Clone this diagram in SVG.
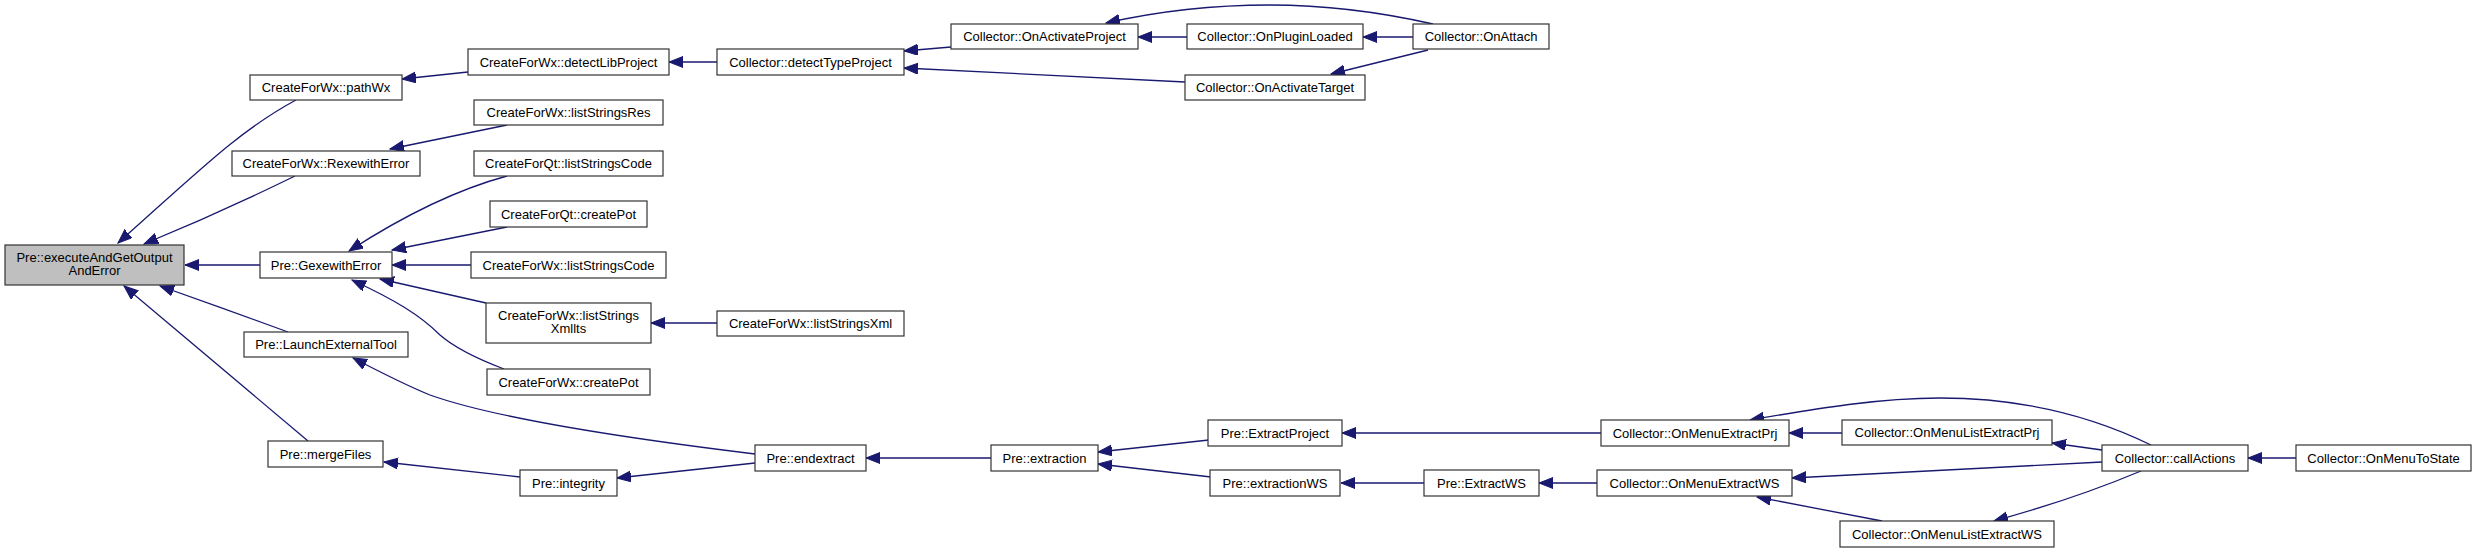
<svg xmlns="http://www.w3.org/2000/svg" width="2476" height="553" viewBox="0 0 2476 553">
<style>
.n rect{fill:#fff;stroke:#333;stroke-width:1.2}
.n.m rect{fill:#bfbfbf}
.n text{font-family:"Liberation Sans",Arial,sans-serif;font-size:13px;fill:#000;text-anchor:middle}
.e path{fill:none;stroke:#191970;stroke-width:1.3;marker-end:url(#ah)}
</style>
<defs>
<marker id="ah" markerUnits="userSpaceOnUse" markerWidth="16" markerHeight="12" refX="14" refY="5.5" orient="auto">
<path d="M0,0 L14,5.5 L0,11 z" fill="#191970" stroke="#191970" stroke-width="1"/>
</marker>
</defs>
<rect width="2476" height="553" fill="#fff"/>
<g id="edges" class="e">
<path d="M296,100 C240,130 200,170 118,243"/>
<path d="M295,176 C250,198 190,225 144,244"/>
<path d="M260,265 L185,265"/>
<path d="M288,332 C250,318 200,300 160,286"/>
<path d="M308,441 L124,286"/>
<path d="M468,72 L402,79"/>
<path d="M507,125 L390,149"/>
<path d="M507,176 C470,186 420,205 349,251"/>
<path d="M507,227 L392,250"/>
<path d="M471,265 L392,265"/>
<path d="M486,303 L380,279"/>
<path d="M504,369 C475,358 455,348 440,335 C420,315 395,300 352,280"/>
<path d="M755,454 C640,440 500,420 430,395 C405,385 380,372 353,358"/>
<path d="M520,477 L384,462"/>
<path d="M755,463 L617,478"/>
<path d="M991,458 L866,458"/>
<path d="M1209,440 L1098,452"/>
<path d="M1211,477 L1098,464"/>
<path d="M1601,433 L1342,433"/>
<path d="M1424,483 L1341,483"/>
<path d="M1597,483 L1539,483"/>
<path d="M1842,433 L1789,433"/>
<path d="M2151,445 C2100,420 2030,398 1940,398 C1880,398 1820,408 1750,420"/>
<path d="M2102,450 L2052,443"/>
<path d="M2102,462 L1792,478"/>
<path d="M2141,471 C2110,484 2060,503 1994,521"/>
<path d="M1882,521 L1757,497"/>
<path d="M2296,458 L2248,458"/>
<path d="M951,47 L904,51"/>
<path d="M1185,82 L904,68"/>
<path d="M717,62 L669,62"/>
<path d="M1187,37 L1138,37"/>
<path d="M1433,24 C1380,12 1320,5 1270,5 C1200,5 1150,13 1106,23"/>
<path d="M1413,37 L1363,37"/>
<path d="M1428,50 L1331,74"/>
<path d="M717,323 L651,323"/>
</g>
<g id="n_main" class="n m"><rect x="5" y="245" width="179" height="40"/><text x="94.5" y="262">Pre::executeAndGetOutput</text><text x="94.5" y="275">AndError</text></g>
<g id="n_pathWx" class="n"><rect x="250" y="75" width="152" height="25"/><text x="326" y="92">CreateForWx::pathWx</text></g>
<g id="n_RexewithError" class="n"><rect x="232" y="151" width="188" height="25"/><text x="326" y="168">CreateForWx::RexewithError</text></g>
<g id="n_GexewithError" class="n"><rect x="260" y="252" width="132" height="26"/><text x="326" y="269.5">Pre::GexewithError</text></g>
<g id="n_LaunchExternalTool" class="n"><rect x="244" y="332" width="164" height="25"/><text x="326" y="349">Pre::LaunchExternalTool</text></g>
<g id="n_mergeFiles" class="n"><rect x="268" y="441" width="115" height="26"/><text x="325.5" y="458.5">Pre::mergeFiles</text></g>
<g id="n_detectLibProject" class="n"><rect x="468" y="49" width="201" height="26"/><text x="568.5" y="66.5">CreateForWx::detectLibProject</text></g>
<g id="n_listStringsRes" class="n"><rect x="474" y="100" width="189" height="25"/><text x="568.5" y="117">CreateForWx::listStringsRes</text></g>
<g id="n_QtlistStringsCode" class="n"><rect x="474" y="151" width="189" height="25"/><text x="568.5" y="168">CreateForQt::listStringsCode</text></g>
<g id="n_QtcreatePot" class="n"><rect x="490" y="201" width="157" height="26"/><text x="568.5" y="218.5">CreateForQt::createPot</text></g>
<g id="n_WxlistStringsCode" class="n"><rect x="471" y="252" width="195" height="26"/><text x="568.5" y="269.5">CreateForWx::listStringsCode</text></g>
<g id="n_listStringsXmllts" class="n"><rect x="486" y="303" width="165" height="40"/><text x="568.5" y="320">CreateForWx::listStrings</text><text x="568.5" y="333">Xmllts</text></g>
<g id="n_WxcreatePot" class="n"><rect x="487" y="369" width="163" height="26"/><text x="568.5" y="386.5">CreateForWx::createPot</text></g>
<g id="n_integrity" class="n"><rect x="520" y="470" width="97" height="26"/><text x="568.5" y="487.5">Pre::integrity</text></g>
<g id="n_detectTypeProject" class="n"><rect x="717" y="49" width="187" height="26"/><text x="810.5" y="66.5">Collector::detectTypeProject</text></g>
<g id="n_listStringsXml" class="n"><rect x="717" y="311" width="187" height="25"/><text x="810.5" y="328">CreateForWx::listStringsXml</text></g>
<g id="n_endextract" class="n"><rect x="755" y="445" width="111" height="26"/><text x="810.5" y="462.5">Pre::endextract</text></g>
<g id="n_OnActivateProject" class="n"><rect x="951" y="24" width="187" height="25"/><text x="1044.5" y="41">Collector::OnActivateProject</text></g>
<g id="n_extraction" class="n"><rect x="991" y="445" width="107" height="26"/><text x="1044.5" y="462.5">Pre::extraction</text></g>
<g id="n_OnPluginLoaded" class="n"><rect x="1187" y="24" width="176" height="25"/><text x="1275" y="41">Collector::OnPluginLoaded</text></g>
<g id="n_OnActivateTarget" class="n"><rect x="1185" y="75" width="180" height="25"/><text x="1275" y="92">Collector::OnActivateTarget</text></g>
<g id="n_ExtractProject" class="n"><rect x="1208" y="420" width="134" height="26"/><text x="1275" y="437.5">Pre::ExtractProject</text></g>
<g id="n_extractionWS" class="n"><rect x="1210" y="470" width="130" height="26"/><text x="1275" y="487.5">Pre::extractionWS</text></g>
<g id="n_OnAttach" class="n"><rect x="1413" y="24" width="136" height="25"/><text x="1481" y="41">Collector::OnAttach</text></g>
<g id="n_ExtractWS" class="n"><rect x="1424" y="470" width="115" height="26"/><text x="1481.5" y="487.5">Pre::ExtractWS</text></g>
<g id="n_OnMenuExtractPrj" class="n"><rect x="1601" y="420" width="188" height="26"/><text x="1695" y="437.5">Collector::OnMenuExtractPrj</text></g>
<g id="n_OnMenuExtractWS" class="n"><rect x="1597" y="470" width="195" height="26"/><text x="1694.5" y="487.5">Collector::OnMenuExtractWS</text></g>
<g id="n_OnMenuListExtractPrj" class="n"><rect x="1842" y="420" width="210" height="25"/><text x="1947" y="437">Collector::OnMenuListExtractPrj</text></g>
<g id="n_OnMenuListExtractWS" class="n"><rect x="1840" y="521" width="214" height="26"/><text x="1947" y="538.5">Collector::OnMenuListExtractWS</text></g>
<g id="n_callActions" class="n"><rect x="2102" y="445" width="146" height="26"/><text x="2175" y="462.5">Collector::callActions</text></g>
<g id="n_OnMenuToState" class="n"><rect x="2296" y="445" width="175" height="26"/><text x="2383.5" y="462.5">Collector::OnMenuToState</text></g>
</svg>
